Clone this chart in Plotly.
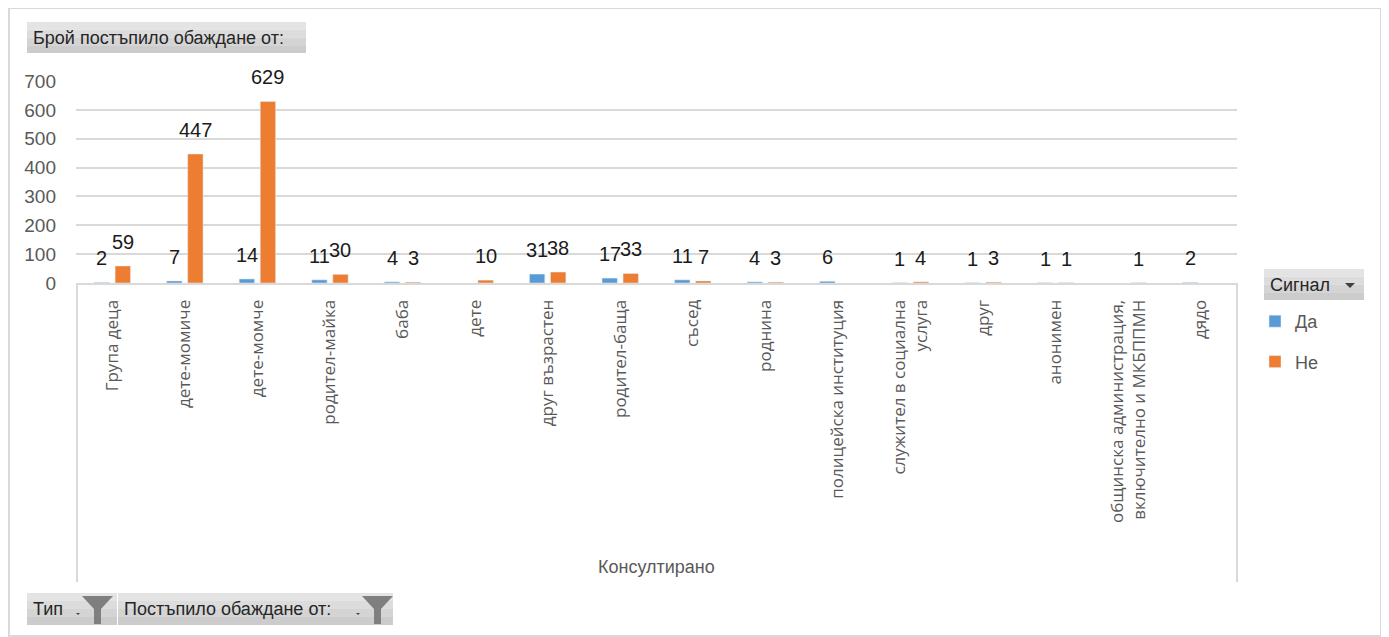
import plotly.graph_objects as go

categories = ["Група деца", "дете-момиче", "дете-момче", "родител-майка", "баба", "дете",
              "друг възрастен", "родител-баща", "съсед", "роднина", "полицейска институция",
              "служител в социална<br>услуга", "друг", "анонимен",
              "общинска администрация,<br>включително и МКБППМН", "дядо"]
da_values = [2, 7, 14, 11, 4, None, 31, 17, 11, 4, 6, 1, 1, 1, None, 2]
ne_values = [59, 447, 629, 30, 3, 10, 38, 33, 7, 3, None, 4, 3, 1, 1, None]
y_ticks = [0, 100, 200, 300, 400, 500, 600, 700]

# page body has an 8px margin: work in screen pixels, shift by OFFS
OFFS = 8
W, H = 1389 - OFFS, 637 - OFFS
L, R, T, B = 76 - OFFS, 1389 - 1237, 81 - OFFS, 637 - 283
PW, PH = W - L - R, H - T - B

def px(x):
    return (x - OFFS - L) / PW

def py(y):
    return (H - B - (y - OFFS)) / PH

BLUE = "#5B9BD5"
ORANGE = "#ED7D31"
GREY = "#595959"
LINE = "#d9d9d9"

fig = go.Figure()
fig.add_bar(x=list(range(len(categories))), y=da_values, name="Да", marker_color=BLUE,
            legendgroup="a")
fig.add_bar(x=list(range(len(categories))), y=ne_values, name="Не", marker_color=ORANGE,
            legendgroup="b")

annotations = []
OFF = 0.145
for i, (d, n) in enumerate(zip(da_values, ne_values)):
    for v, off in ((d, -OFF), (n, OFF)):
        if v is None:
            continue
        annotations.append(dict(x=i + off, y=v, xref="x", yref="y", text=str(v),
                                showarrow=False, yshift=24, yanchor="middle",
                                font=dict(family="Liberation Sans", size=20, color="#1a1a1a")))

# axis title
annotations.append(dict(x=0.5, y=py(567), xref="paper", yref="paper", text="Консултирано",
                        showarrow=False, yanchor="middle",
                        font=dict(family="Liberation Sans", size=18, color=GREY)))

shapes = []

def rect(x0, y0, x1, y1, **kw):
    shapes.append(dict(type="rect", xref="paper", yref="paper", x0=px(x0), x1=px(x1),
                       y0=py(y0), y1=py(y1), layer="below", **kw))

def button(x0, y0, x1, y1):
    cols = ["#e4e4e4", "#dcdcdc", "#d4d4d4", "#cccccc"]
    n = len(cols)
    h = (y1 - y0) / n
    for k, c in enumerate(cols):
        rect(x0, y0 + k * h, x1, y0 + (k + 1) * h, fillcolor=c, line=dict(width=0))

def path(points, color):
    d = "M" + " L".join(f"{px(a):.5f},{py(b):.5f}" for a, b in points) + " Z"
    shapes.append(dict(type="path", xref="paper", yref="paper", path=d, fillcolor=color,
                       line=dict(width=0), layer="above"))

# outer frame
rect(9, 8, 1381, 636, line=dict(color=LINE, width=2), fillcolor="rgba(0,0,0,0)")
# axis box verticals
for xv in (77, 1237):
    shapes.append(dict(type="line", xref="paper", yref="paper", x0=px(xv), x1=px(xv),
                       y0=py(283), y1=py(582), line=dict(color=LINE, width=2)))

BTN_FONT = dict(family="Liberation Sans", size=18, color="#262626")
# top-left button
button(27, 22, 306, 53)
annotations.append(dict(x=px(31), y=py(38), xref="paper", yref="paper",
                        text="Брой постъпило обаждане от:", showarrow=False,
                        xanchor="left", yanchor="middle", font=BTN_FONT))
# legend button
button(1264, 269, 1364, 300)
annotations.append(dict(x=px(1268), y=py(285), xref="paper", yref="paper",
                        text="Сигнал", showarrow=False, xanchor="left", yanchor="middle",
                        font=BTN_FONT))
path([(1345, 283), (1355, 283), (1350, 288)], "#404040")

# bottom buttons
button(27, 593, 117, 625)
button(118, 593, 393, 625)
annotations.append(dict(x=px(31), y=py(609), xref="paper", yref="paper", text="Тип",
                        showarrow=False, xanchor="left", yanchor="middle", font=BTN_FONT))
annotations.append(dict(x=px(122), y=py(609), xref="paper", yref="paper",
                        text="Постъпило обаждане от:", showarrow=False, xanchor="left",
                        yanchor="middle", font=BTN_FONT))
for fx in (82, 362):
    path([(fx, 596), (fx + 31, 596), (fx + 19, 609), (fx + 19, 624), (fx + 12, 624),
          (fx + 12, 609)], "#7f7f7f")
    path([(fx - 6, 613), (fx - 2, 613), (fx - 4, 615)], "#404040")

fig.update_layout(
    width=W, height=H,
    margin=dict(l=L, r=R, t=T, b=B, autoexpand=False),
    paper_bgcolor="white", plot_bgcolor="white",
    barmode="group", bargap=0.42, bargroupgap=0.27,
    showlegend=True,
    legend=dict(x=px(1255), y=py(303), xanchor="left", yanchor="top",
                font=dict(family="Liberation Sans", size=18, color=GREY),
                tracegroupgap=14, traceorder="grouped", bgcolor="rgba(0,0,0,0)",
                itemwidth=30),
    xaxis=dict(tickmode="array", tickvals=list(range(len(categories))), ticktext=categories,
               range=[-0.5, len(categories) - 0.5], tickangle=-90,
               tickfont=dict(family="Open Sans", size=17, color=GREY),
               showline=True, linecolor=LINE, linewidth=2, showgrid=False,
               ticks="", ticklabelstandoff=8, zeroline=False),
    yaxis=dict(range=[0, 700], tickvals=y_ticks, showgrid=True, gridcolor=LINE, gridwidth=2,
               zeroline=False, showline=False,
               tickfont=dict(family="Liberation Sans", size=19, color=GREY),
               ticklabelstandoff=19),
    annotations=annotations,
    shapes=shapes,
    font=dict(family="Liberation Sans"),
)

fig.write_html("out.html")
